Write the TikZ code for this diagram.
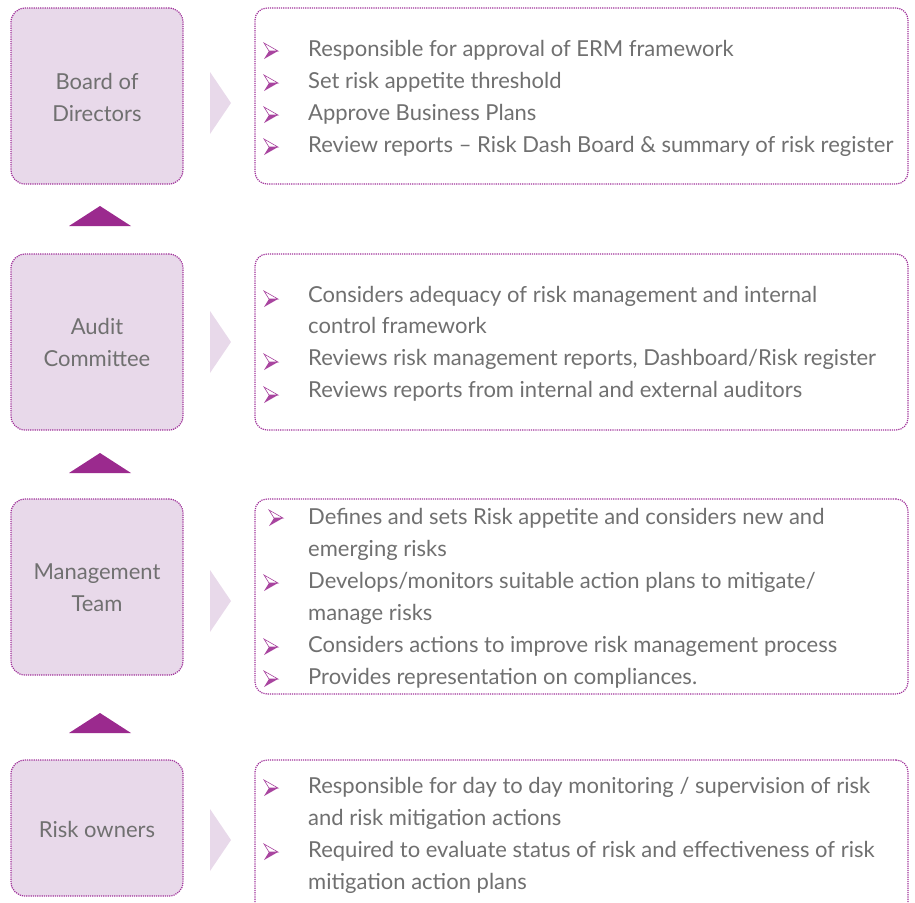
\documentclass[tikz,border=0pt]{standalone}
\usepackage{fontspec}
\setmainfont{Lato}
\usetikzlibrary{fit}
\definecolor{pfill}{HTML}{E8D9EA}
\definecolor{pline}{HTML}{A0329A}
\definecolor{pdark}{HTML}{9B2A8E}
\definecolor{tgray}{HTML}{707070}
\definecolor{blight}{HTML}{DDB0D8}
\definecolor{bdark}{HTML}{A8449F}
\tikzset{
  rolebox/.style={draw=pline, dash pattern=on 1.2pt off 1pt, line width=1.2pt, fill=pfill, rounded corners=14pt, inner sep=0pt},
  infobox/.style={draw=pline, dash pattern=on 1.2pt off 1pt, line width=1.2pt, fill=white, rounded corners=12pt, inner sep=0pt},
  roletext/.style={text=tgray, font=\fontsize{22}{32}\selectfont, align=center, inner sep=0pt},
  itemtext/.style={text=tgray, font=\fontsize{22}{24}\selectfont, anchor=mid west, inner sep=0pt},
  chev/.style={fill=pfill},
  uptri/.style={fill=pdark},
  bul/.pic={
    \fill[white, draw=bdark, line width=0.6pt] (7,0) -- (-7,-8) -- (-2,0) -- cycle;
    \fill[bdark] (7,0) -- (-2,0) -- (-7,8) -- cycle;
  }
}
\begin{document}
\begin{tikzpicture}[x=1pt,y=-1pt]
\useasboundingbox (0,0) rectangle (915,902);
\clip (0,0) rectangle (915,902);
% left boxes
\node[rolebox, fit={(11,8) (183,184)}] (r1) {};
\node[rolebox, fit={(11,254) (183,430)}] (r2) {};
\node[rolebox, fit={(11,499) (183,675)}] (r3) {};
\node[rolebox, fit={(11,760) (183,896)}] (r4) {};
\node[roletext] (t1) at (97,97) {Board of\\Directors};
\node[roletext] (t2) at (97,342) {Audit\\Committee};
\node[roletext] (t3) at (97,588) {Management\\Team};
\node[roletext] (t4) at (97,829) {Risk owners};
% right boxes
\node[infobox, fit={(255,8) (908,184)}] (i1) {};
\node[infobox, fit={(255,254) (908,430)}] (i2) {};
\node[infobox, fit={(255,499) (908,694)}] (i3) {};
\node[infobox, fit={(255,760) (908,930)}] (i4) {};
% chevrons
\fill[chev] (210,72) -- (231,103) -- (210,134) -- cycle;
\fill[chev] (210,311) -- (231,342) -- (210,373) -- cycle;
\fill[chev] (210,570) -- (231,601) -- (210,632) -- cycle;
\fill[chev] (210,809) -- (231,840) -- (210,871) -- cycle;
% up triangles
\fill[uptri] (69,226) -- (100,206) -- (131,226) -- cycle;
\fill[uptri] (69,473) -- (100,453) -- (131,473) -- cycle;
\fill[uptri] (69,733) -- (100,713) -- (131,733) -- cycle;
% box 1 items
\pic at (271,51) {bul}; \node[itemtext] (a1) at (308,54) {Responsible for approval of ERM framework};
\pic at (271,83) {bul}; \node[itemtext] (a2) at (308,86) {Set risk appetite threshold};
\pic at (271,115) {bul}; \node[itemtext] (a3) at (308,118) {Approve Business Plans};
\pic at (271,147) {bul}; \node[itemtext] (a4) at (308,150) {Review reports -- Risk Dash Board \& summary of risk register};
% box 2 items
\pic at (271,299) {bul}; \node[itemtext] (b1) at (308,300) {Considers adequacy of risk management and internal};
\node[itemtext] (b1b) at (308,331) {control framework};
\pic at (271,362) {bul}; \node[itemtext] (b2) at (308,363) {Reviews risk management reports, Dashboard/Risk register};
\pic at (271,395) {bul}; \node[itemtext] (b3) at (308,395) {Reviews reports from internal and external auditors};
% box 3 items
\pic at (276,518) {bul}; \node[itemtext] (c1) at (308,522) {Defines and sets Risk appetite and considers new and};
\node[itemtext] (c1b) at (308,554) {emerging risks};
\pic at (271,583) {bul}; \node[itemtext] (c2) at (308,586) {Develops/monitors suitable action plans to mitigate/};
\node[itemtext] (c2b) at (308,618) {manage risks};
\pic at (271,647) {bul}; \node[itemtext] (c3) at (308,650) {Considers actions to improve risk management process};
\pic at (271,679) {bul}; \node[itemtext] (c4) at (308,682) {Provides representation on compliances.};
% box 4 items
\pic at (271,788) {bul}; \node[itemtext] (d1) at (308,791) {Responsible for day to day monitoring / supervision of risk};
\node[itemtext] (d1b) at (308,823) {and risk mitigation actions};
\pic at (271,852) {bul}; \node[itemtext] (d2) at (308,855) {Required to evaluate status of risk and effectiveness of risk};
\node[itemtext] (d2b) at (308,887) {mitigation action plans};
\end{tikzpicture}
\end{document}
